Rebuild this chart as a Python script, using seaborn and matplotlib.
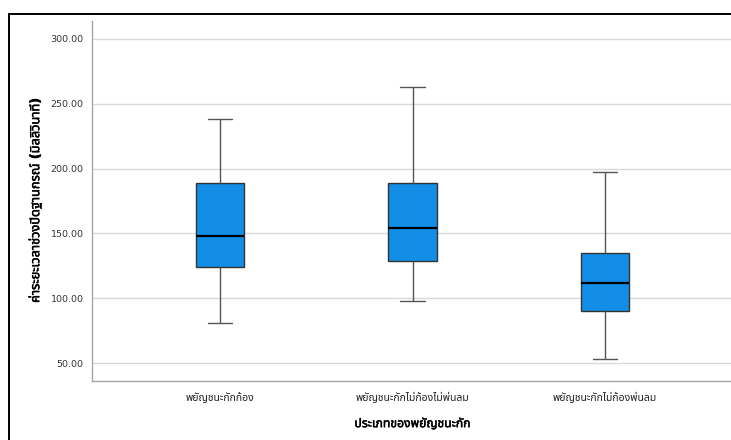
import numpy as np
import pandas as pd
import seaborn as sns
import matplotlib
matplotlib.use("Agg")
import matplotlib.pyplot as plt
import matplotlib.patheffects as pe
from matplotlib import font_manager
from matplotlib.ft2font import FT2Font
from matplotlib.patches import Rectangle

# Stop-consonant categories (x axis)
categories = ["พยัญชนะกักก้อง", "พยัญชนะกักไม่ก้องไม่พ่นลม", "พยัญชนะกักไม่ก้องพ่นลม"]

# Five-number summaries per category: min, Q1, median, Q3, max (milliseconds)
voiced = [81.3, 124.2, 148.0, 188.6, 237.9]
unaspirated = [98.0, 128.8, 154.4, 188.9, 263.0]
aspirated = [53.1, 90.0, 111.6, 134.7, 197.1]

y_ticks = [50, 100, 150, 200, 250, 300]
x_title = "ประเภทของพยัญชนะกัก"
y_title = "ค่าระยะเวลาช่วงปิดฐานกรณ์ (มิลลิวินาที)"


def find_thai_family():
    preferred = ["Noto Sans Thai", "Noto Sans Thai UI", "Loma", "Garuda", "Sarabun",
                 "Waree", "Umpush", "Kinnari", "Norasi", "Laksaman", "Tlwg Typo"]
    names = {}
    for f in font_manager.fontManager.ttflist:
        names.setdefault(f.name, []).append(f.fname)
    ordered = [n for n in preferred if n in names] + sorted(n for n in names if n not in preferred)
    for name in ordered:
        for path in names[name]:
            try:
                if 0x0E01 in FT2Font(path).get_charmap():
                    return name
            except Exception:
                continue
    return None


sns.set_theme(style="white")
thai = find_thai_family()
families = ["DejaVu Sans"] + ([thai] if thai else [])
plt.rcParams["font.family"] = families

df = pd.DataFrame({
    "category": np.repeat(categories, 5),
    "value": voiced + unaspirated + aspirated,
})

fig = plt.figure(figsize=(7.31, 4.40), dpi=100)
ax = fig.add_axes([92 / 731, 59 / 440, 641 / 731, 360 / 440])

sns.boxplot(
    data=df, x="category", y="value", order=categories, ax=ax,
    whis=(0, 100), width=0.25, color="#128ee6", saturation=1,
    linecolor="#333333", linewidth=1.0,
    medianprops=dict(color="black", linewidth=1.6),
    whiskerprops=dict(color="#555555", linewidth=1.0),
    capprops=dict(color="#555555", linewidth=1.0),
    zorder=3,
)

ax.set_xlim(-0.665, 2.665)
ax.set_ylim(36.4, 313.6)
ax.set_yticks(y_ticks)
ax.set_yticklabels([f"{v:.2f}" for v in y_ticks])
ax.yaxis.grid(True, color="#d9d9d9", linewidth=1.0, zorder=0)
ax.set_axisbelow(True)

for side in ("top", "right"):
    ax.spines[side].set_visible(False)
for side in ("left", "bottom"):
    ax.spines[side].set_color("#a6a6a6")
    ax.spines[side].set_linewidth(1.0)

ax.tick_params(axis="y", length=0, pad=6, labelsize=6.8, labelcolor="#333333")
ax.tick_params(axis="x", length=0, pad=8, labelsize=7.5, labelcolor="#222222")

bold = [pe.withStroke(linewidth=0.35, foreground="black")]
xl = ax.set_xlabel(x_title, fontsize=8.8, fontweight="bold", color="black", labelpad=10)
yl = ax.set_ylabel(y_title, fontsize=9.2, fontweight="bold", color="black", labelpad=6)
xl.set_path_effects(bold)
yl.set_path_effects(bold)

# Outer frame around the chart
fig.patches.append(Rectangle((8.5 / 731, -0.05), 1.2, 1 - 14 / 440 + 0.05,
                             transform=fig.transFigure, fill=False,
                             edgecolor="black", linewidth=1.4, zorder=10))

fig.savefig("out.png", dpi=100)
